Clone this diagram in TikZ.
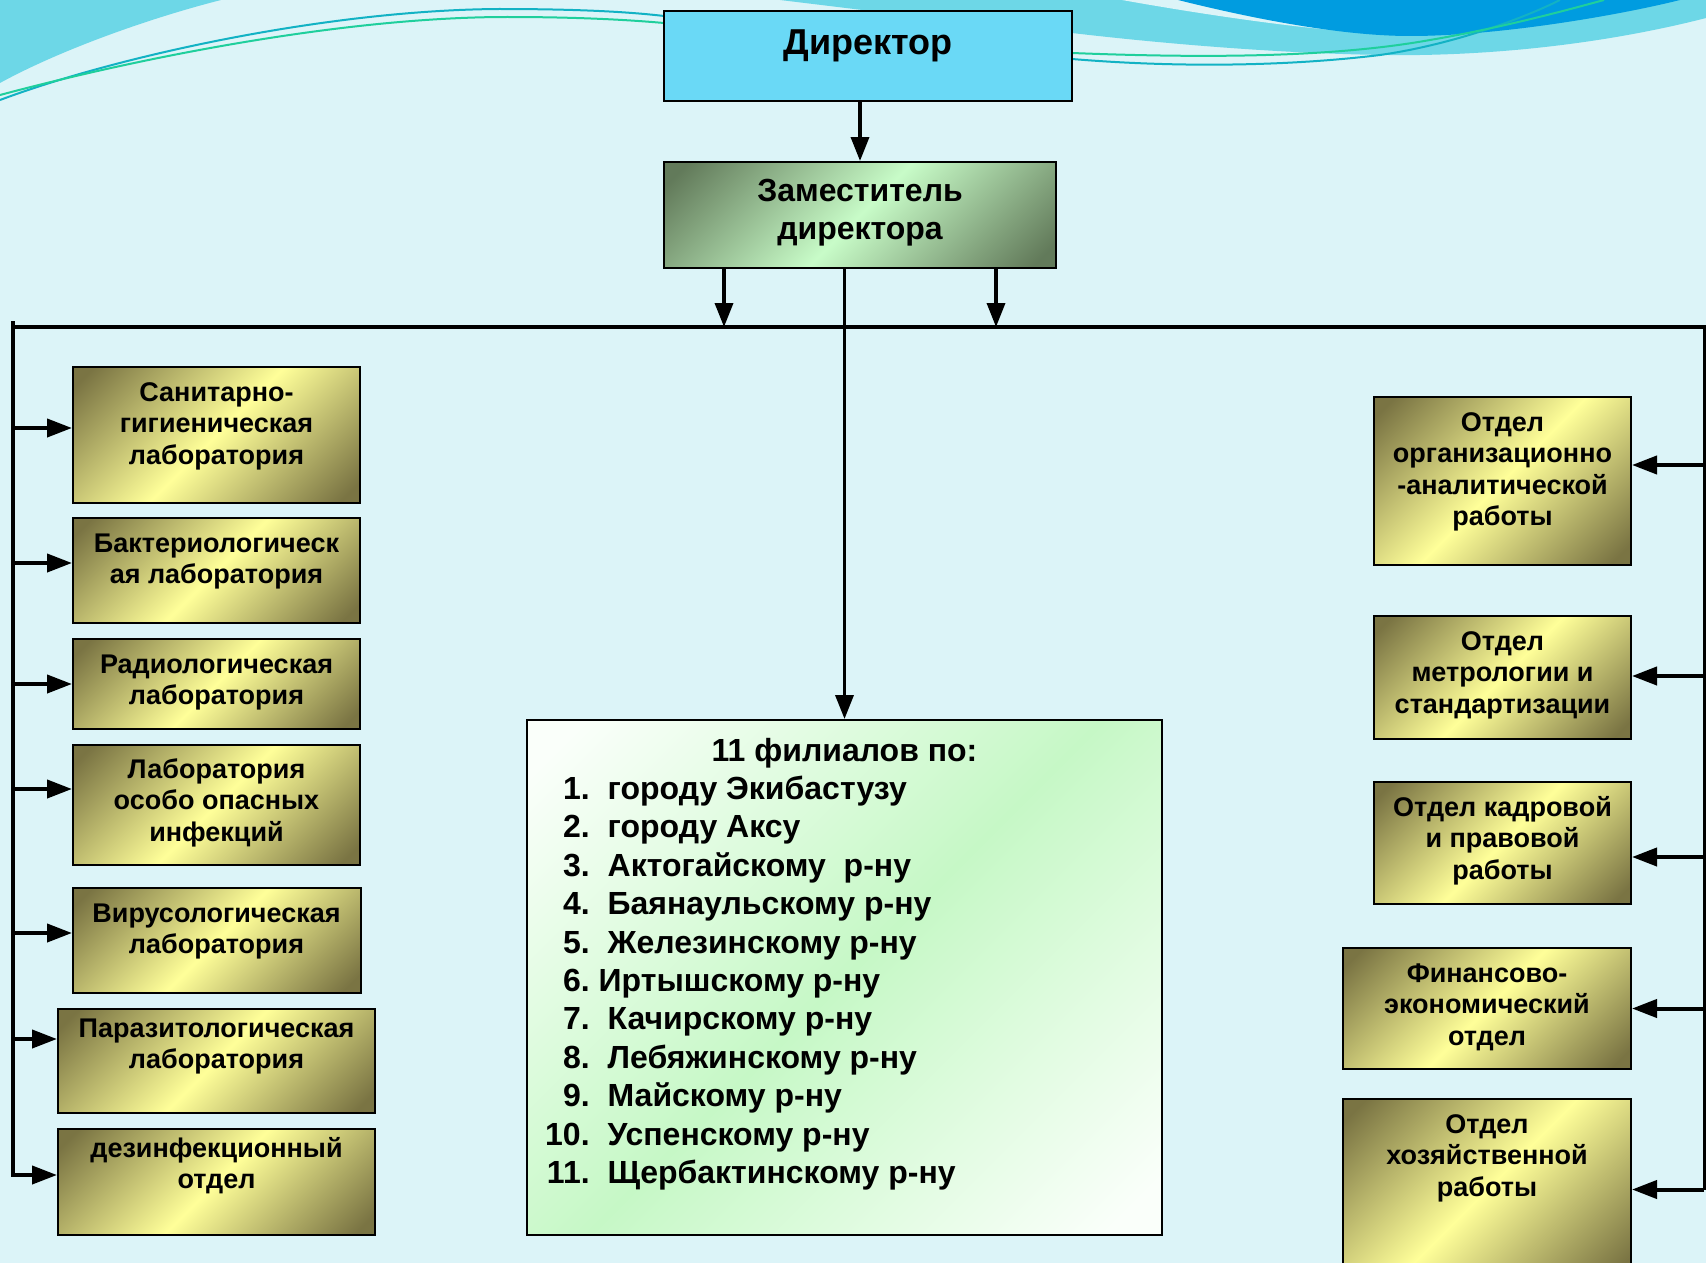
\documentclass[tikz,border=0pt]{standalone}
\usepackage{fontspec}
\setmainfont{Liberation Sans}
\usetikzlibrary{arrows.meta}
\definecolor{bgc}{HTML}{DCF4F8}
\definecolor{cyanband}{HTML}{6DD7E7}
\definecolor{deepblue}{HTML}{009CE0}
\definecolor{tealline}{HTML}{12B2C4}
\definecolor{greenline}{HTML}{1FCF9C}
\definecolor{dirfill}{HTML}{6AD9F6}
\definecolor{olivedark}{HTML}{7A7443}
\definecolor{olivelight}{HTML}{FFFF99}
\definecolor{zamdark}{HTML}{627A5A}
\definecolor{zamlight}{HTML}{C8FCC8}
\definecolor{filwhite}{HTML}{FAFFFA}
\definecolor{filgreen}{HTML}{C6F8C6}
\pgfdeclarehorizontalshading{oliveshade}{100bp}{color(0bp)=(olivedark); color(18bp)=(olivedark); color(50bp)=(olivelight); color(82bp)=(olivedark); color(100bp)=(olivedark)}
\pgfdeclarehorizontalshading{zamshade}{100bp}{color(0bp)=(zamdark); color(18bp)=(zamdark); color(50bp)=(zamlight); color(82bp)=(zamdark); color(100bp)=(zamdark)}
\pgfdeclarehorizontalshading{filshade}{100bp}{color(0bp)=(filwhite); color(18bp)=(filwhite); color(50bp)=(filgreen); color(82bp)=(filwhite); color(100bp)=(filwhite)}
\newcommand\bxf{\fontsize{27}{31.5}\selectfont\bfseries}
\newcommand\lstf{\fontsize{32}{38.4}\selectfont\bfseries}
\newcommand\dirf{\fontsize{36}{40}\selectfont\bfseries}
\newcommand\zamf{\fontsize{32}{38}\selectfont\bfseries}
\tikzset{
  obox/.style={draw=black, line width=2pt, shading=oliveshade, shading angle=-45, inner sep=0pt},
  zbox/.style={draw=black, line width=2pt, shading=zamshade, shading angle=-45, inner sep=0pt},
  fbox/.style={draw=black, line width=2pt, shading=filshade, shading angle=-45, inner sep=0pt},
  dbox/.style={draw=black, line width=2pt, fill=dirfill, inner sep=0pt},
  txt/.style={anchor=base, inner sep=0pt, font=\bxf},
  thinarrow/.style={line width=3.5pt, -{Triangle[length=24pt,width=18pt]}},
  brancharrow/.style={line width=4pt, -{Triangle[length=25pt,width=18pt]}},
  busline/.style={line width=4.5pt},
  wave/.style={line width=2pt},
}
\begin{document}
\begin{tikzpicture}[x=1pt,y=-1pt]
\useasboundingbox (0,0) rectangle (1706,1263);
\clip (0,0) rectangle (1706,1263);
\fill[bgc] (0,0) rectangle (1706,1263);
% background decoration
\fill[cyanband] (0,0) -- (221,0) .. controls (150,18) and (60,50) .. (0,83) -- cycle;
\fill[cyanband] (780,0) .. controls (880,12) and (980,25) .. (1072,33) .. controls (1200,48) and (1330,56) .. (1420,55) .. controls (1540,53) and (1640,35) .. (1706,18) -- (1706,0) -- cycle;
\fill[bgc] (1122,0) .. controls (1200,14) and (1290,27) .. (1345,31) -- (1345,0) -- cycle;
\fill[deepblue] (1178,0) .. controls (1250,18) and (1340,36) .. (1410,36) .. controls (1500,36) and (1620,15) .. (1680,0) -- cycle;
\draw[wave, tealline] (0,100) .. controls (120,55) and (330,10) .. (499,9) .. controls (580,9) and (630,12) .. (664,16);
\draw[wave, greenline] (0,95) .. controls (150,55) and (350,17) .. (507,17) .. controls (580,17) and (630,20) .. (664,23);
\draw[wave, tealline] (1072,59) .. controls (1180,68) and (1290,66) .. (1380,55) .. controls (1450,45) and (1520,20) .. (1560,0);
\draw[wave, greenline] (1072,53) .. controls (1200,58) and (1330,58) .. (1430,40) .. controls (1500,28) and (1560,12) .. (1604,0);

% boxes
\node[dbox, minimum width=408pt, minimum height=90pt] (Dir) at (868,56) {};
\node[zbox, minimum width=392pt, minimum height=106pt] (Zam) at (860,215) {};
\node[fbox, minimum width=635pt, minimum height=515pt] (F) at (844.5,977.5) {};
\node[obox, minimum width=287pt, minimum height=136pt] (L1) at (216.5,435) {};
\node[obox, minimum width=287pt, minimum height=105pt] (L2) at (216.5,570.5) {};
\node[obox, minimum width=287pt, minimum height=90pt] (L3) at (216.5,684) {};
\node[obox, minimum width=287pt, minimum height=120pt] (L4) at (216.5,805) {};
\node[obox, minimum width=288pt, minimum height=105pt] (L5) at (217,940.5) {};
\node[obox, minimum width=317pt, minimum height=104pt] (L6) at (216.5,1061) {};
\node[obox, minimum width=317pt, minimum height=106pt] (L7) at (216.5,1182) {};
\node[obox, minimum width=257pt, minimum height=168pt] (R1) at (1502.5,481) {};
\node[obox, minimum width=257pt, minimum height=123pt] (R2) at (1502.5,677.5) {};
\node[obox, minimum width=257pt, minimum height=122pt] (R3) at (1502.5,843) {};
\node[obox, minimum width=288pt, minimum height=121pt] (R4) at (1487,1008.5) {};
\node[obox, minimum width=288pt, minimum height=181pt] (R5) at (1487,1189.5) {};

% texts
\node[txt, font=\dirf] (tDir) at (868,55) {Директор};
\node[txt, font=\zamf] (tZam) at (860,201) {\begin{tabular}[t]{@{}c@{}}Заместитель\\директора\end{tabular}};
\node[txt] (tL1) at (216.5,401) {\begin{tabular}[t]{@{}c@{}}Санитарно-\\гигиеническая\\лаборатория\end{tabular}};
\node[txt] (tL2) at (216.5,552) {\begin{tabular}[t]{@{}c@{}}Бактериологическ\\ая лаборатория\end{tabular}};
\node[txt] (tL3) at (216.5,673) {\begin{tabular}[t]{@{}c@{}}Радиологическая\\лаборатория\end{tabular}};
\node[txt] (tL4) at (216.5,778) {\begin{tabular}[t]{@{}c@{}}Лаборатория\\особо опасных\\инфекций\end{tabular}};
\node[txt] (tL5) at (216.5,922) {\begin{tabular}[t]{@{}c@{}}Вирусологическая\\лаборатория\end{tabular}};
\node[txt] (tL6) at (216.5,1037) {\begin{tabular}[t]{@{}c@{}}Паразитологическая\\лаборатория\end{tabular}};
\node[txt] (tL7) at (216.5,1157) {\begin{tabular}[t]{@{}c@{}}дезинфекционный\\отдел\end{tabular}};
\node[txt] (tR1) at (1502.5,431) {\begin{tabular}[t]{@{}c@{}}Отдел\\организационно\\-аналитической\\работы\end{tabular}};
\node[txt] (tR2) at (1502.5,650) {\begin{tabular}[t]{@{}c@{}}Отдел\\метрологии и\\стандартизации\end{tabular}};
\node[txt] (tR3) at (1502.5,816) {\begin{tabular}[t]{@{}c@{}}Отдел кадровой\\и правовой\\работы\end{tabular}};
\node[txt] (tR4) at (1487,982) {\begin{tabular}[t]{@{}c@{}}Финансово-\\экономический\\отдел\end{tabular}};
\node[txt] (tR5) at (1487,1133) {\begin{tabular}[t]{@{}c@{}}Отдел\\хозяйственной\\работы\end{tabular}};
\node[txt, font=\lstf] (tFh) at (844.5,761) {11 филиалов по:};
\node[txt, font=\lstf, anchor=base west] (tFl) at (545,799.4) {\begin{tabular}[t]{@{}r@{\hspace{18pt}}l@{}}
1.&городу Экибастузу\\
2.&городу Аксу\\
3.&Актогайскому~ р-ну\\
4.&Баянаульскому р-ну\\
5.&Железинскому р-ну\\
6.&\hspace{-9pt}Иртышскому р-ну\\
7.&Качирскому р-ну\\
8.&Лебяжинскому р-ну\\
9.&Майскому р-ну\\
10.&Успенскому р-ну\\
11.&Щербактинскому р-ну
\end{tabular}};

% connectors
\coordinate (busL) at (11,327);
\coordinate (busR) at (1706,327);
\coordinate (lbtop) at (13,321);
\coordinate (rbtop) at (1704,327);
\coordinate (z1) at (724,327);
\coordinate (z2) at (996,327);
\draw[busline] (busL) -- (busR);
\draw[thinarrow] (Dir.south -| Zam.north) -- (Zam.north);
\draw[thinarrow] (Zam.south -| z1) -- (z1);
\draw[thinarrow] (Zam.south -| z2) -- (z2);
\draw[thinarrow] (Zam.south -| F.north) -- (F.north);

\path ([yshift=7pt]L1.west) coordinate (a1)
      ([yshift=7.5pt]L2.west) coordinate (a2)
      (L3.west) coordinate (a3)
      ([yshift=16pt]L4.west) coordinate (a4)
      ([yshift=7.5pt]L5.west) coordinate (a5)
      ([yshift=22pt]L6.west) coordinate (a6)
      ([yshift=7pt]L7.west) coordinate (a7);
\draw[brancharrow, line join=miter] (lbtop) -- (a7 -| lbtop) -- (a7);
\foreach \a in {a1,a2,a3,a4,a5,a6}{\draw[brancharrow] (\a -| lbtop) -- (\a);}

\path ([yshift=16pt]R1.east) coordinate (b1)
      ([yshift=1.5pt]R2.east) coordinate (b2)
      ([yshift=-14pt]R3.east) coordinate (b3)
      (R4.east) coordinate (b4)
      (R5.east) coordinate (b5);
\draw[line width=3pt] (rbtop) -- (b5 -| rbtop);
\foreach \b in {b1,b2,b3,b4,b5}{\draw[brancharrow] (\b -| rbtop) -- (\b);}
\end{tikzpicture}
\end{document}
